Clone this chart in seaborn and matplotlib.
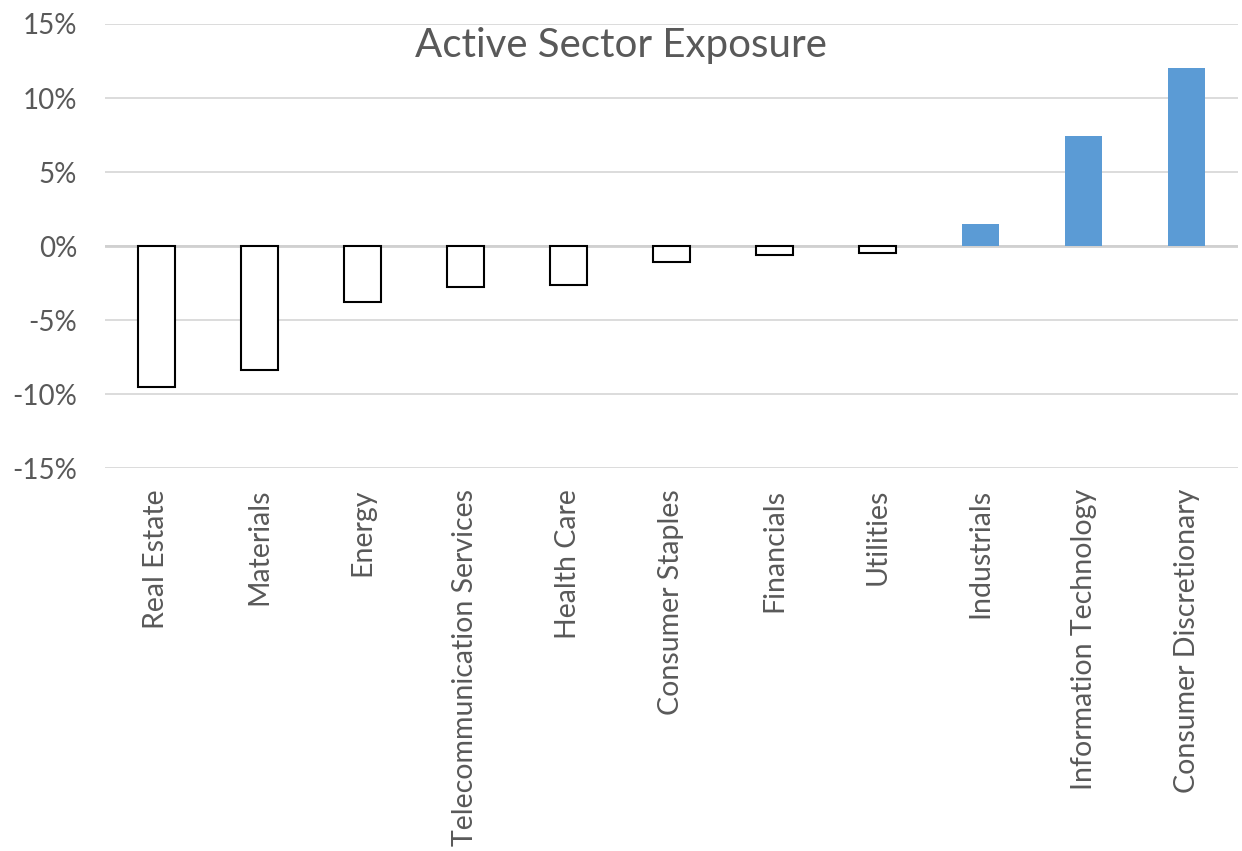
import pandas as pd
import matplotlib.pyplot as plt
import seaborn as sns
from matplotlib.ticker import FuncFormatter

# sector active weights (%)
sectors = ['Real Estate', 'Materials', 'Energy', 'Telecommunication Services',
           'Health Care', 'Consumer Staples', 'Financials', 'Utilities',
           'Industrials', 'Information Technology', 'Consumer Discretionary']
exposure = [-9.5, -8.4, -3.8, -2.8, -2.6, -1.1, -0.6, -0.5, 1.5, 7.4, 12.0]
y_ticks = [-15, -10, -5, 0, 5, 10, 15]

df = pd.DataFrame({'sector': sectors, 'exposure': exposure})

sns.set_style('white')
plt.rcParams['font.family'] = ['Lato', 'DejaVu Sans']
grey = '#595959'

fig = plt.figure(figsize=(12.42, 8.51), dpi=100)
ax = fig.add_axes([0.0845, 0.45, 0.9123, 0.5218])

colours = {s: ('#5B9BD5' if v > 0 else 'white') for s, v in zip(sectors, exposure)}
sns.barplot(data=df, x='sector', y='exposure', hue='sector', palette=colours,
            order=sectors, hue_order=sectors, legend=False, width=0.36,
            saturation=1, ax=ax, zorder=3)

# negative bars are outlined, positive bars are plain blue
for patch, v in zip(ax.patches, exposure):
    if v < 0:
        patch.set_edgecolor('black')
        patch.set_linewidth(1.5)
    else:
        patch.set_edgecolor('none')

ax.set_ylim(-15, 15)
ax.set_xlim(-0.5, len(sectors) - 0.5)
ax.set_yticks(y_ticks)
ax.yaxis.set_major_formatter(FuncFormatter(lambda v, p: '{:.0f}%'.format(v)))
ax.grid(axis='y', color='#d9d9d9', linewidth=1.3, zorder=0)
ax.axhline(0, color='#d0d0d0', linewidth=2, zorder=1)
sns.despine(ax=ax, left=True, bottom=True)
ax.tick_params(axis='both', length=0, colors=grey)
ax.tick_params(axis='y', labelsize=20, pad=20)
ax.tick_params(axis='x', labelsize=20.5, pad=15, labelrotation=90)
for lab in ax.get_xticklabels() + ax.get_yticklabels():
    lab.set_color(grey)
ax.set_xlabel('')
ax.set_ylabel('')

fig.text(0.5, 1 - 45 / 851, 'Active Sector Exposure', ha='center', va='center',
         fontsize=29, color=grey)

fig.savefig('out.png', dpi=100)
